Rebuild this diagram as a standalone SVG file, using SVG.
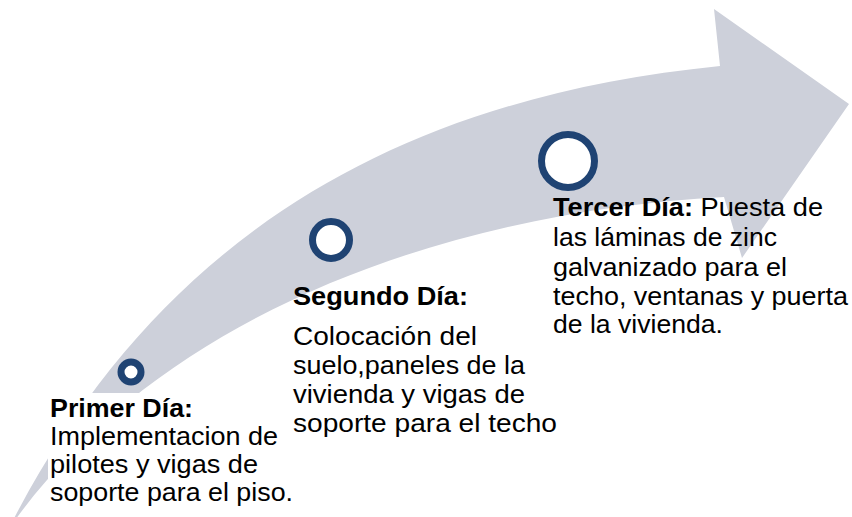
<svg xmlns="http://www.w3.org/2000/svg" width="852" height="517" viewBox="0 0 852 517">
<style>
.arrow{fill:#CDD0DA}
.dot{fill:#FFFFFF;stroke:#1F4373;stroke-width:7}
.t{font-family:"Liberation Sans",Arial,sans-serif;font-size:25px;fill:#000}
.b{font-weight:bold}
.box{fill:#FFFFFF}
</style>
<rect width="852" height="517" fill="#FFFFFF"/>
<g id="connectors">
<path id="arrow" class="arrow" d="M 8,530 C 150,250 380,100 720,66 L 714,9 L 849,104 L 742,258 L 724,197 C 450,212 160,312 8,530 Z"/>
</g>
<g id="day1">
<rect class="box" x="48" y="393" width="250" height="124"/>
<circle class="dot" cx="131" cy="372" r="10"/>
<text class="t b" x="50" y="417" textLength="143" lengthAdjust="spacingAndGlyphs">Primer Día:</text>
<text class="t" x="50" y="445" textLength="228" lengthAdjust="spacingAndGlyphs">Implementacion de</text>
<text class="t" x="50" y="473" textLength="208" lengthAdjust="spacingAndGlyphs">pilotes y vigas de</text>
<text class="t" x="50" y="501" textLength="243" lengthAdjust="spacingAndGlyphs">soporte para el piso.</text>
</g>
<g id="day2">
<circle class="dot" cx="331" cy="240" r="18.5"/>
<text class="t b" x="293" y="305" textLength="175" lengthAdjust="spacingAndGlyphs">Segundo Día:</text>
<text class="t" x="293" y="345" textLength="184" lengthAdjust="spacingAndGlyphs">Colocación del</text>
<text class="t" x="293" y="374" textLength="232" lengthAdjust="spacingAndGlyphs">suelo,paneles de la</text>
<text class="t" x="293" y="403" textLength="232" lengthAdjust="spacingAndGlyphs">vivienda y vigas de</text>
<text class="t" x="293" y="432" textLength="264" lengthAdjust="spacingAndGlyphs">soporte para el techo</text>
</g>
<g id="day3">
<circle class="dot" cx="568" cy="161" r="26.5"/>
<text class="t" x="553" y="216" textLength="270" lengthAdjust="spacingAndGlyphs"><tspan class="b">Tercer Día:</tspan> Puesta de</text>
<text class="t" x="553" y="246" textLength="224" lengthAdjust="spacingAndGlyphs">las láminas de zinc</text>
<text class="t" x="553" y="276" textLength="234" lengthAdjust="spacingAndGlyphs">galvanizado para el</text>
<text class="t" x="553" y="305" textLength="295" lengthAdjust="spacingAndGlyphs">techo, ventanas y puerta</text>
<text class="t" x="553" y="333" textLength="170" lengthAdjust="spacingAndGlyphs">de la vivienda.</text>
</g>
</svg>
